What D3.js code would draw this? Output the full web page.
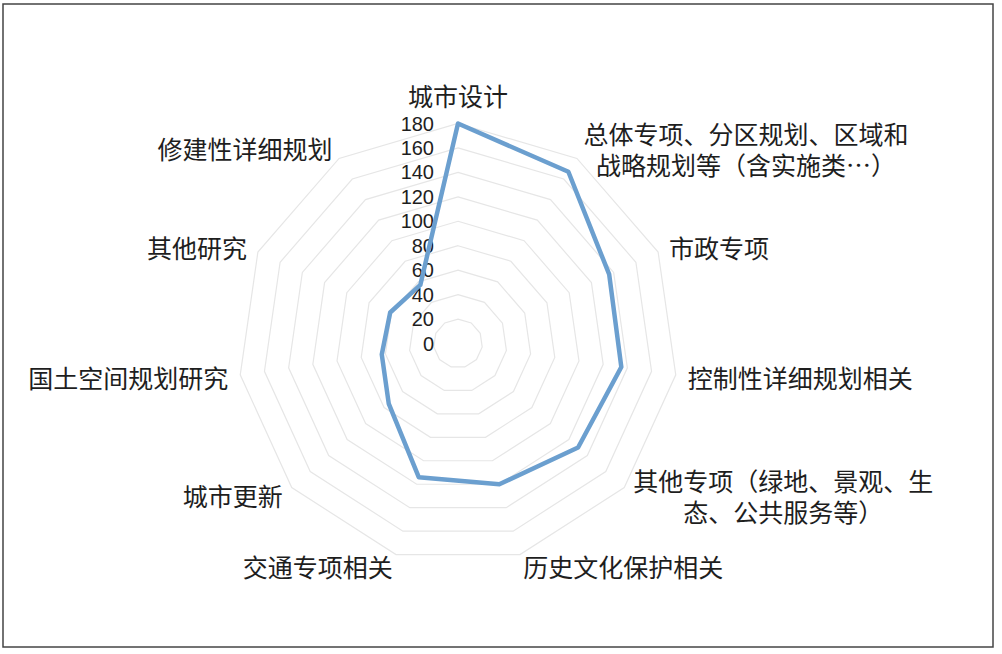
<!DOCTYPE html>
<html>
<head>
<meta charset="utf-8">
<script src="https://cdn.jsdelivr.net/npm/d3@7"></script>
<style>
  body { margin: 0; background: #fff; }
  text { font-family: "Noto Sans CJK SC", "Noto Sans", sans-serif; fill: #1e1e1e; }
  .tick-label { font-family: "Liberation Sans", Arial, sans-serif; }
</style>
</head>
<body>
<svg id="chart"></svg>
<script>
// categories (each entry = lines of the label)
const categories = [
  ["城市设计"],
  ["总体专项、分区规划、区域和", "战略规划等（含实施类…）"],
  ["市政专项"],
  ["控制性详细规划相关"],
  ["其他专项（绿地、景观、生", "态、公共服务等）"],
  ["历史文化保护相关"],
  ["交通专项相关"],
  ["城市更新"],
  ["国土空间规划研究"],
  ["其他研究"],
  ["修建性详细规划"]
];
const values = [180, 167, 136, 135, 130, 120, 114, 75, 63, 61, 57];
const ticks = [0, 20, 40, 60, 80, 100, 120, 140, 160, 180];

const width = 1002;
const height = 654;
const cx = 458;
const cy = 343.5;
const maxR = 220;
const labelR = 232;

const svg = d3.select("#chart")
              .attr("width", width)
              .attr("height", height);

svg.append("rect")
   .attr("x", 3)
   .attr("y", 4)
   .attr("width", 990)
   .attr("height", 643)
   .attr("fill", "#fff")
   .attr("stroke", "#444")
   .attr("stroke-width", 1.5);

const rScale = d3.scaleLinear()
                 .domain([0, 180])
                 .range([0, maxR]);

const angle = d3.scaleLinear()
                .domain([0, categories.length])
                .range([0, 2 * Math.PI]);

const g = svg.append("g")
             .attr("transform", `translate(${cx}, ${cy})`);

// grid polygons
const ring = d3.lineRadial()
               .angle((d, i) => angle(i))
               .radius(d => rScale(d))
               .curve(d3.curveLinearClosed);

g.selectAll(".grid")
 .data(ticks.filter(t => t > 0))
 .enter()
 .append("path")
 .attr("class", "grid")
 .attr("d", t => ring(categories.map(() => t)))
 .attr("fill", "none")
 .attr("stroke", "#e6e6e6")
 .attr("stroke-width", 1.2);

// tick labels
g.selectAll(".tick-label")
 .data(ticks)
 .enter()
 .append("text")
 .attr("class", "tick-label")
 .attr("x", -24)
 .attr("y", t => -rScale(t))
 .attr("text-anchor", "end")
 .attr("dominant-baseline", "central")
 .attr("font-size", 20)
 .text(t => t);

// series line
g.append("path")
 .datum(values)
 .attr("d", ring)
 .attr("fill", "none")
 .attr("stroke", "#6b9fcf")
 .attr("stroke-width", 4.5)
 .attr("stroke-linejoin", "round");

// category labels
const lineH = 31;
categories.forEach((lines, i) => {
  const a = angle(i);
  const x = labelR * Math.sin(a);
  const y = -labelR * Math.cos(a);
  let anchor = "middle";
  if (Math.sin(a) > 0.05) anchor = "start";
  else if (Math.sin(a) < -0.05) anchor = "end";

  const t = g.append("text")
             .attr("font-size", 25)
             .attr("text-anchor", "middle");

  // block width taken from the widest line, lines centred in the block
  const tmp = g.append("text").attr("font-size", 25).text(lines[0]);
  const w = d3.max(lines, l => { tmp.text(l); return tmp.node().getComputedTextLength(); });
  tmp.remove();

  let bx = x;
  if (anchor === "start") bx = x + w / 2;
  if (anchor === "end") bx = x - w / 2;
  const y0 = i === 0 ? y - 17 - (lines.length - 1) * lineH : y - (lines.length - 1) * lineH / 2;

  lines.forEach((l, k) => {
    t.append("tspan")
     .attr("x", bx)
     .attr("y", y0 + k * lineH)
     .attr("dominant-baseline", "central")
     .text(l);
  });
});
</script>
</body>
</html>
